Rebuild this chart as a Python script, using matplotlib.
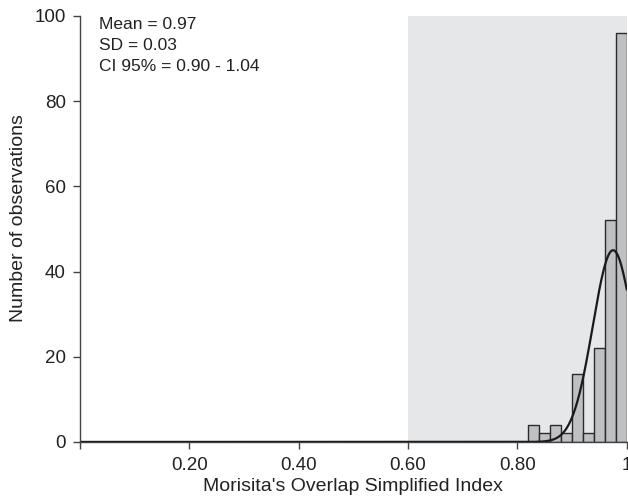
import numpy as np
import matplotlib
matplotlib.use("Agg")
import matplotlib.pyplot as plt

plt.rcParams['font.family'] = ['Liberation Sans', 'DejaVu Sans']

# histogram of the index (bin width 0.02)
bin_left = [0.82, 0.84, 0.86, 0.88, 0.90, 0.92, 0.94, 0.96, 0.98]
counts = [4, 2, 4, 2, 16, 2, 22, 52, 96]
bin_width = 0.02

# fitted normal curve
fit_mean = 0.975
fit_sd = 0.037
fit_peak = 45

x_ticks = [0, 0.2, 0.4, 0.6, 0.8, 1.0]
x_ticklabels = ["", "0.20", "0.40", "0.60", "0.80", "1"]
y_ticks = [0, 20, 40, 60, 80, 100]

stats_text = "Mean = 0.97\nSD = 0.03\nCI 95% = 0.90 - 1.04"

fig = plt.figure(figsize=(6.28, 4.96), dpi=100)
ax = fig.add_axes([0.127, 0.109, 0.871, 0.859])

# shaded region
ax.axvspan(0.6, 1.0, ymin=0, ymax=1, color="#e6e7e9", zorder=0, lw=0)

ax.bar(bin_left, counts, width=bin_width, align="edge", color="#bfc0c2",
       edgecolor="#2b2b2b", linewidth=1.0, zorder=2)

xs = np.linspace(0, 1.0, 500)
ys = fit_peak * np.exp(-0.5 * ((xs - fit_mean) / fit_sd) ** 2)
ax.plot(xs, ys, color="#1a1a1a", lw=1.6, zorder=3)

ax.set_xlim(0, 1.0)
ax.set_ylim(0, 100)
ax.set_xticks(x_ticks)
ax.set_xticklabels(x_ticklabels)
ax.set_yticks(y_ticks)

for s in ["top", "right"]:
    ax.spines[s].set_visible(False)
for s in ["left", "bottom"]:
    ax.spines[s].set_color("#444444")
    ax.spines[s].set_linewidth(1.0)
ax.spines["left"].set_zorder(4)

ax.tick_params(axis="both", direction="out", length=5, width=1.0,
               color="#444444", labelsize=13.5, labelcolor="#222222")
ax.tick_params(axis="x", pad=6)
ax.tick_params(axis="y", pad=5)

ax.set_xlabel("Morisita's Overlap Simplified Index", fontsize=14,
              color="#222222", labelpad=3)
ax.set_ylabel("Number of observations", fontsize=14, color="#222222")
ax.yaxis.set_label_coords(-0.097, 0.526)

ax.text(0.035, 0.997, stats_text, transform=ax.transAxes, fontsize=12.5,
        va="top", ha="left", linespacing=1.5, color="#222222")

fig.savefig("out.png", dpi=100)
